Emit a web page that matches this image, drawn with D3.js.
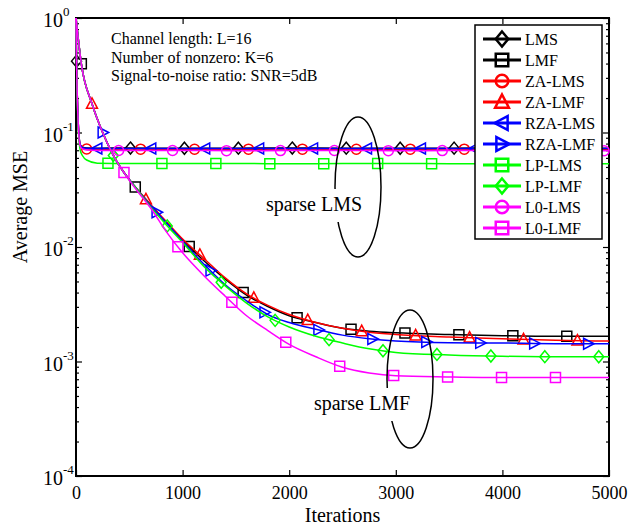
<!DOCTYPE html>
<html>
<head>
<meta charset="utf-8">
<title>Average MSE vs iterations</title>
<script src="https://cdn.jsdelivr.net/npm/d3@7/dist/d3.min.js"></script>
<style>
  body { margin: 0; background: #fff; }
  svg { display: block; font-family: "Liberation Serif", "Times New Roman", serif; }
  .curve { fill: none; stroke-width: 1.5px; }
</style>
</head>
<body>
<svg id="chart" width="629" height="527"></svg>
<script>
// iteration grids the curves were read at
const itersLMS = [0, 5, 10, 20, 30, 40, 60, 100, 200, 500, 1000, 1500, 2000, 2500, 3000, 3500, 4000, 4500, 5000];
const itersLMF = [0, 50, 150, 250, 350, 450, 550, 700, 850, 1000, 1200, 1400, 1600, 1800, 2000, 2250, 2500, 2750, 3000, 3500, 4000, 4500, 5000];

// average MSE, LMS-type (fast, high floor)
const lms   = [1, 0.42, 0.25, 0.126, 0.089, 0.078, 0.0745, 0.0732, 0.073, 0.0731, 0.0729, 0.073, 0.0731, 0.073, 0.0729, 0.073, 0.0731, 0.073, 0.073];
const zaLms = [1, 0.42, 0.25, 0.125, 0.088, 0.077, 0.0735, 0.0718, 0.0715, 0.0716, 0.0714, 0.0715, 0.0716, 0.0714, 0.0715, 0.0716, 0.0715, 0.0714, 0.0715];
const rzaLms= [1, 0.42, 0.25, 0.126, 0.089, 0.078, 0.0742, 0.0728, 0.0725, 0.0726, 0.0724, 0.0725, 0.0726, 0.0725, 0.0724, 0.0725, 0.0726, 0.0725, 0.0725];
const lpLms = [1, 0.42, 0.24, 0.115, 0.082, 0.07, 0.063, 0.0575, 0.054, 0.0535, 0.0535, 0.0536, 0.0534, 0.0535, 0.0536, 0.0534, 0.0535, 0.0535, 0.0534];
const l0Lms = [1, 0.42, 0.25, 0.124, 0.087, 0.076, 0.072, 0.0705, 0.0698, 0.0695, 0.0696, 0.0694, 0.0695, 0.0696, 0.0694, 0.0695, 0.0695, 0.0694, 0.0693];

// average MSE, LMF-type (slow, low floor)
const lmf   = [1, 0.398, 0.178, 0.1, 0.0631, 0.0447, 0.0339, 0.0234, 0.0162, 0.0115, 0.00759, 0.00525, 0.0038, 0.00302, 0.00251, 0.00219, 0.00195, 0.00184, 0.00178, 0.00172, 0.00168, 0.00166, 0.00166];
const zaLmf = [1, 0.398, 0.178, 0.1, 0.0631, 0.0447, 0.0339, 0.0234, 0.0166, 0.01175, 0.00794, 0.00537, 0.00389, 0.00309, 0.00257, 0.00219, 0.00195, 0.0018, 0.00172, 0.00164, 0.00158, 0.00153, 0.00151];
const rzaLmf= [1, 0.398, 0.178, 0.1, 0.0631, 0.0447, 0.0339, 0.0229, 0.0162, 0.0112, 0.00708, 0.00468, 0.00339, 0.00257, 0.00219, 0.00191, 0.0017, 0.00158, 0.00151, 0.00146, 0.00145, 0.00143, 0.00143];
const lpLmf = [1, 0.398, 0.178, 0.1, 0.0631, 0.0447, 0.0339, 0.0224, 0.0155, 0.01096, 0.00676, 0.00457, 0.00324, 0.00245, 0.002, 0.00166, 0.00145, 0.00129, 0.0012, 0.00114, 0.00111, 0.0011, 0.0011];
const l0Lmf = [1, 0.398, 0.178, 0.1, 0.0631, 0.0447, 0.0331, 0.0219, 0.0135, 0.00891, 0.00562, 0.00372, 0.00251, 0.00186, 0.00141, 0.0011, 0.000891, 0.000794, 0.00075, 0.000733, 0.000724, 0.000724, 0.000724];

const names   = ["LMS", "LMF", "ZA-LMS", "ZA-LMF", "RZA-LMS", "RZA-LMF", "LP-LMS", "LP-LMF", "L0-LMS", "L0-LMF"];
const values  = [lms, lmf, zaLms, zaLmf, rzaLms, rzaLmf, lpLms, lpLmf, l0Lms, l0Lmf];
const colors  = ["#000", "#000", "#f00", "#f00", "#00f", "#00f", "#0f0", "#0f0", "#f0f", "#f0f"];
const shapes  = ["diamond", "square", "circle", "up", "left", "right", "square", "diamond", "circle", "square"];
const markStart = [5, 50, 100, 150, 200, 250, 300, 350, 400, 450];
const markStep = 506;

const xTicks = [0, 1000, 2000, 3000, 4000, 5000];
const yDecades = [-4, -3, -2, -1, 0];
const notes = ["Channel length: L=16", "Number of nonzero: K=6", "Signal-to-noise ratio: SNR=5dB"];

const svg = d3.select("#chart");
const pl = 76, pr = 609, pt = 18, pb = 476;

const x = d3.scaleLinear().domain([0, 5000]).range([pl, pr]);
const y = d3.scaleLog().domain([1e-4, 1]).range([pb, pt]);

const majors = yDecades.map(d => Math.pow(10, d));
const minors = [];
yDecades.slice(0, -1).forEach(d => {
  for (let k = 2; k <= 9; k++) minors.push(k * Math.pow(10, d));
});

// axes, ticks inside
svg.append("g").attr("transform", `translate(0,${pb})`)
  .call(d3.axisBottom(x).tickValues(xTicks).tickSize(-6).tickSizeOuter(0).tickPadding(10).tickFormat(d3.format("d")))
  .call(g => g.select(".domain").remove())
  .call(g => g.selectAll("text").attr("font-size", 18).attr("font-family", "Liberation Serif, Times New Roman, serif").attr("fill", "#000"));
svg.append("g").attr("transform", `translate(0,${pt})`)
  .call(d3.axisTop(x).tickValues(xTicks).tickSize(-6).tickSizeOuter(0).tickFormat(""))
  .call(g => g.select(".domain").remove());

function yAxis(axis, size, vals) {
  return g => g.call(axis(y).tickValues(vals).tickSize(-size).tickSizeOuter(0).tickFormat(""))
    .call(g => g.select(".domain").remove());
}
svg.append("g").attr("transform", `translate(${pl},0)`).call(yAxis(d3.axisLeft, 6, majors));
svg.append("g").attr("transform", `translate(${pl},0)`).call(yAxis(d3.axisLeft, 3, minors));
svg.append("g").attr("transform", `translate(${pr},0)`).call(yAxis(d3.axisRight, 6, majors));
svg.append("g").attr("transform", `translate(${pr},0)`).call(yAxis(d3.axisRight, 3, minors));
svg.selectAll(".tick line").attr("stroke", "#000").attr("stroke-width", 1.2);

// y tick labels 10^n
const ylab = svg.append("g").selectAll("text").data(yDecades).join("text")
  .attr("x", 43).attr("y", d => y(Math.pow(10, d)) + 9)
  .attr("font-size", 20);
ylab.append("tspan").text("10");
ylab.append("tspan").attr("dy", -11).attr("font-size", 13).text(d => d === 0 ? "0" : "-" + (-d));

svg.append("rect").attr("x", pl).attr("y", pt).attr("width", pr - pl).attr("height", pb - pt)
  .attr("fill", "none").attr("stroke", "#000").attr("stroke-width", 2);

svg.append("text").attr("x", (pl + pr) / 2).attr("y", 522).attr("text-anchor", "middle")
  .attr("font-size", 20).text("Iterations");
svg.append("text").attr("transform", "translate(27,207) rotate(-90)").attr("text-anchor", "middle")
  .attr("font-size", 20).text("Average MSE");

// markers
function markerPath(shape, s) {
  switch (shape) {
    case "diamond": return `M0,${-6*s}L${5*s},0L0,${6*s}L${-5*s},0Z`;
    case "square": return `M${-5*s},${-5*s}H${5*s}V${5*s}H${-5*s}Z`;
    case "circle": return d3.symbol(d3.symbolCircle, Math.PI * 25 * s * s)();
    case "up": return `M0,${-6*s}L${5.5*s},${4.5*s}L${-5.5*s},${4.5*s}Z`;
    case "left": return `M${-6*s},0L${4.5*s},${-5.5*s}L${4.5*s},${5.5*s}Z`;
    case "right": return `M${6*s},0L${-4.5*s},${-5.5*s}L${-4.5*s},${5.5*s}Z`;
  }
}

function interp(xs, ys, t) {
  const i = Math.max(1, d3.bisectLeft(xs, t));
  const a = (t - xs[i - 1]) / (xs[i] - xs[i - 1]);
  return Math.pow(10, Math.log10(ys[i - 1]) + a * (Math.log10(ys[i]) - Math.log10(ys[i - 1])));
}

const plot = svg.append("g");
const line = d3.line().x(d => x(d[0])).y(d => y(d[1])).curve(d3.curveMonotoneX);

values.forEach((vals, i) => {
  const its = vals.length === itersLMS.length ? itersLMS : itersLMF;
  const pts = its.map((t, j) => [t, vals[j]]);
  plot.append("path").attr("class", "curve").attr("stroke", colors[i]).attr("d", line(pts));
  const marks = d3.range(markStart[i], 5001, markStep);
  plot.append("g").selectAll("path").data(marks).join("path")
    .attr("transform", t => `translate(${x(t)},${y(interp(its, vals, t))})`)
    .attr("d", markerPath(shapes[i], 1))
    .attr("fill", "none").attr("stroke", colors[i]).attr("stroke-width", 1.5);
});

// annotations
svg.append("g").selectAll("text").data(notes).join("text")
  .attr("x", 111).attr("y", (d, i) => 44 + i * 18.5).attr("font-size", 16).text(d => d);

function group(cx, cy, rx, ry, label, tx, ty) {
  svg.append("ellipse").attr("cx", cx).attr("cy", cy).attr("rx", rx).attr("ry", ry)
    .attr("fill", "none").attr("stroke", "#000").attr("stroke-width", 1.5);
  svg.append("rect").attr("x", tx - 52).attr("y", ty - 22).attr("width", 104).attr("height", 33).attr("fill", "#fff");
  svg.append("text").attr("x", tx).attr("y", ty).attr("text-anchor", "middle").attr("font-size", 20).text(label);
}
group(358, 187, 23, 70, "sparse LMS", 314, 211);
group(410, 379, 23, 69, "sparse LMF", 362, 410);

// legend
const lg = svg.append("g");
lg.append("rect").attr("x", 475).attr("y", 25).attr("width", 127).attr("height", 214)
  .attr("fill", "#fff").attr("stroke", "#000").attr("stroke-width", 1.5);
names.forEach((n, i) => {
  const cy = 39 + i * 21;
  lg.append("line").attr("x1", 483).attr("x2", 521).attr("y1", cy).attr("y2", cy)
    .attr("stroke", colors[i]).attr("stroke-width", 3);
  lg.append("path").attr("transform", `translate(502,${cy})`).attr("d", markerPath(shapes[i], 1.25))
    .attr("fill", "none").attr("stroke", colors[i]).attr("stroke-width", 2.5);
  lg.append("text").attr("x", 525).attr("y", cy + 5.5).attr("font-size", 16).text(n);
});
</script>
</body>
</html>
